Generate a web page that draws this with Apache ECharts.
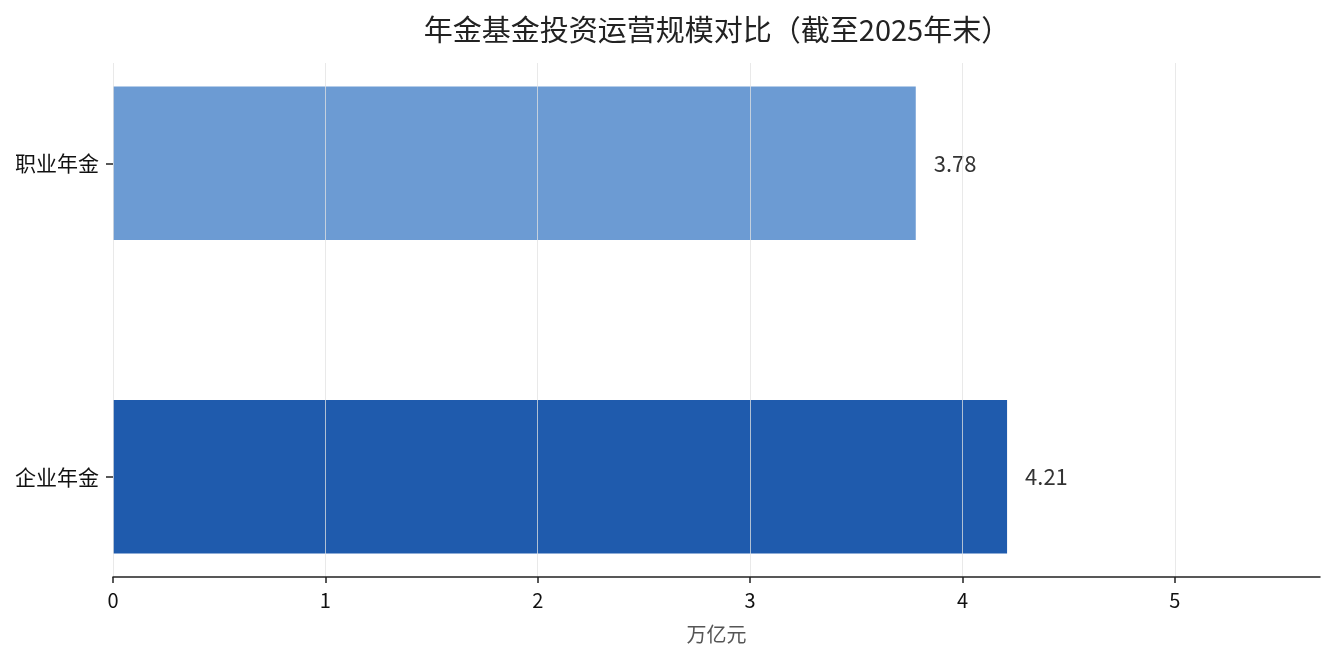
<!DOCTYPE html>
<html>
<head>
<meta charset="utf-8">
<title>年金基金投资运营规模对比</title>
<style>
html, body { margin: 0; padding: 0; background: #fff; }
#chart { width: 1335px; height: 660px; }
</style>
</head>
<body>
<div id="chart"></div>
<script src="https://cdn.jsdelivr.net/npm/echarts@6/dist/echarts.min.js"></script>
<script>
// 数据
var categories = ['企业年金', '职业年金'];
var values = [4.21, 3.78];
var barColors = ['#1f5bad', '#6c9bd3'];
var xTicks = [0, 1, 2, 3, 4, 5];

var fontCN = '"Noto Sans CJK SC", "Noto Sans", sans-serif';
var chart = echarts.init(document.getElementById('chart'));

var seriesData = [];
for (var i = 0; i < values.length; i++) {
  seriesData.push([values[i], i]);
}

chart.setOption({
  animation: false,
  title: {
    text: '年金基金投资运营规模对比（截至2025年末）',
    left: 712, top: 10, textAlign: 'center',
    textStyle: { fontFamily: fontCN, fontSize: 29, fontWeight: 'normal', color: '#222' }
  },
  grid: { left: 113, right: 15, top: 63, bottom: 83 },
  xAxis: {
    type: 'value', min: 0, max: 5.6835, interval: 1, z: 5,
    name: '万亿元', nameLocation: 'middle', nameGap: 47,
    nameTextStyle: { fontFamily: fontCN, fontSize: 20, color: '#555' },
    axisLine: { show: true, onZero: false, lineStyle: { color: '#222', width: 1.5 } },
    axisTick: { show: true, length: 6, customValues: xTicks, lineStyle: { color: '#222', width: 1.5 } },
    axisLabel: { fontFamily: fontCN, fontSize: 20, color: '#111', margin: 13,
      customValues: xTicks },
    splitLine: { show: true, lineStyle: { color: 'rgba(225,225,225,0.75)', width: 1 } }
  },
  yAxis: {
    type: 'value', min: -0.32, max: 1.32,
    axisLine: { show: false },
    axisTick: { show: true, length: 7, customValues: [0, 1], lineStyle: { color: '#222', width: 1.5 } },
    axisLabel: { fontFamily: fontCN, fontSize: 21, color: '#111', margin: 14,
      customValues: [0, 1],
      formatter: function (v) { return categories[Math.round(v)] || ''; } },
    splitLine: { show: false }
  },
  series: [{
    type: 'custom',
    z: 2,
    data: seriesData,
    encode: { x: 0, y: 1 },
    renderItem: function (params, api) {
      var v = api.value(0), idx = api.value(1);
      var p0 = api.coord([0, idx]);
      var p1 = api.coord([v, idx]);
      var h = api.size([0, 0.49])[1];
      return {
        type: 'group',
        children: [{
          type: 'rect',
          shape: { x: p0[0], y: p0[1] - h / 2, width: p1[0] - p0[0], height: h },
          style: { fill: barColors[idx] }
        }, {
          type: 'text',
          x: p1[0] + 18, y: p1[1],
          style: {
            text: v.toFixed(2), fill: '#333', fontSize: 22, fontFamily: fontCN,
            verticalAlign: 'middle', align: 'left'
          }
        }]
      };
    }
  }]
});
</script>
</body>
</html>
